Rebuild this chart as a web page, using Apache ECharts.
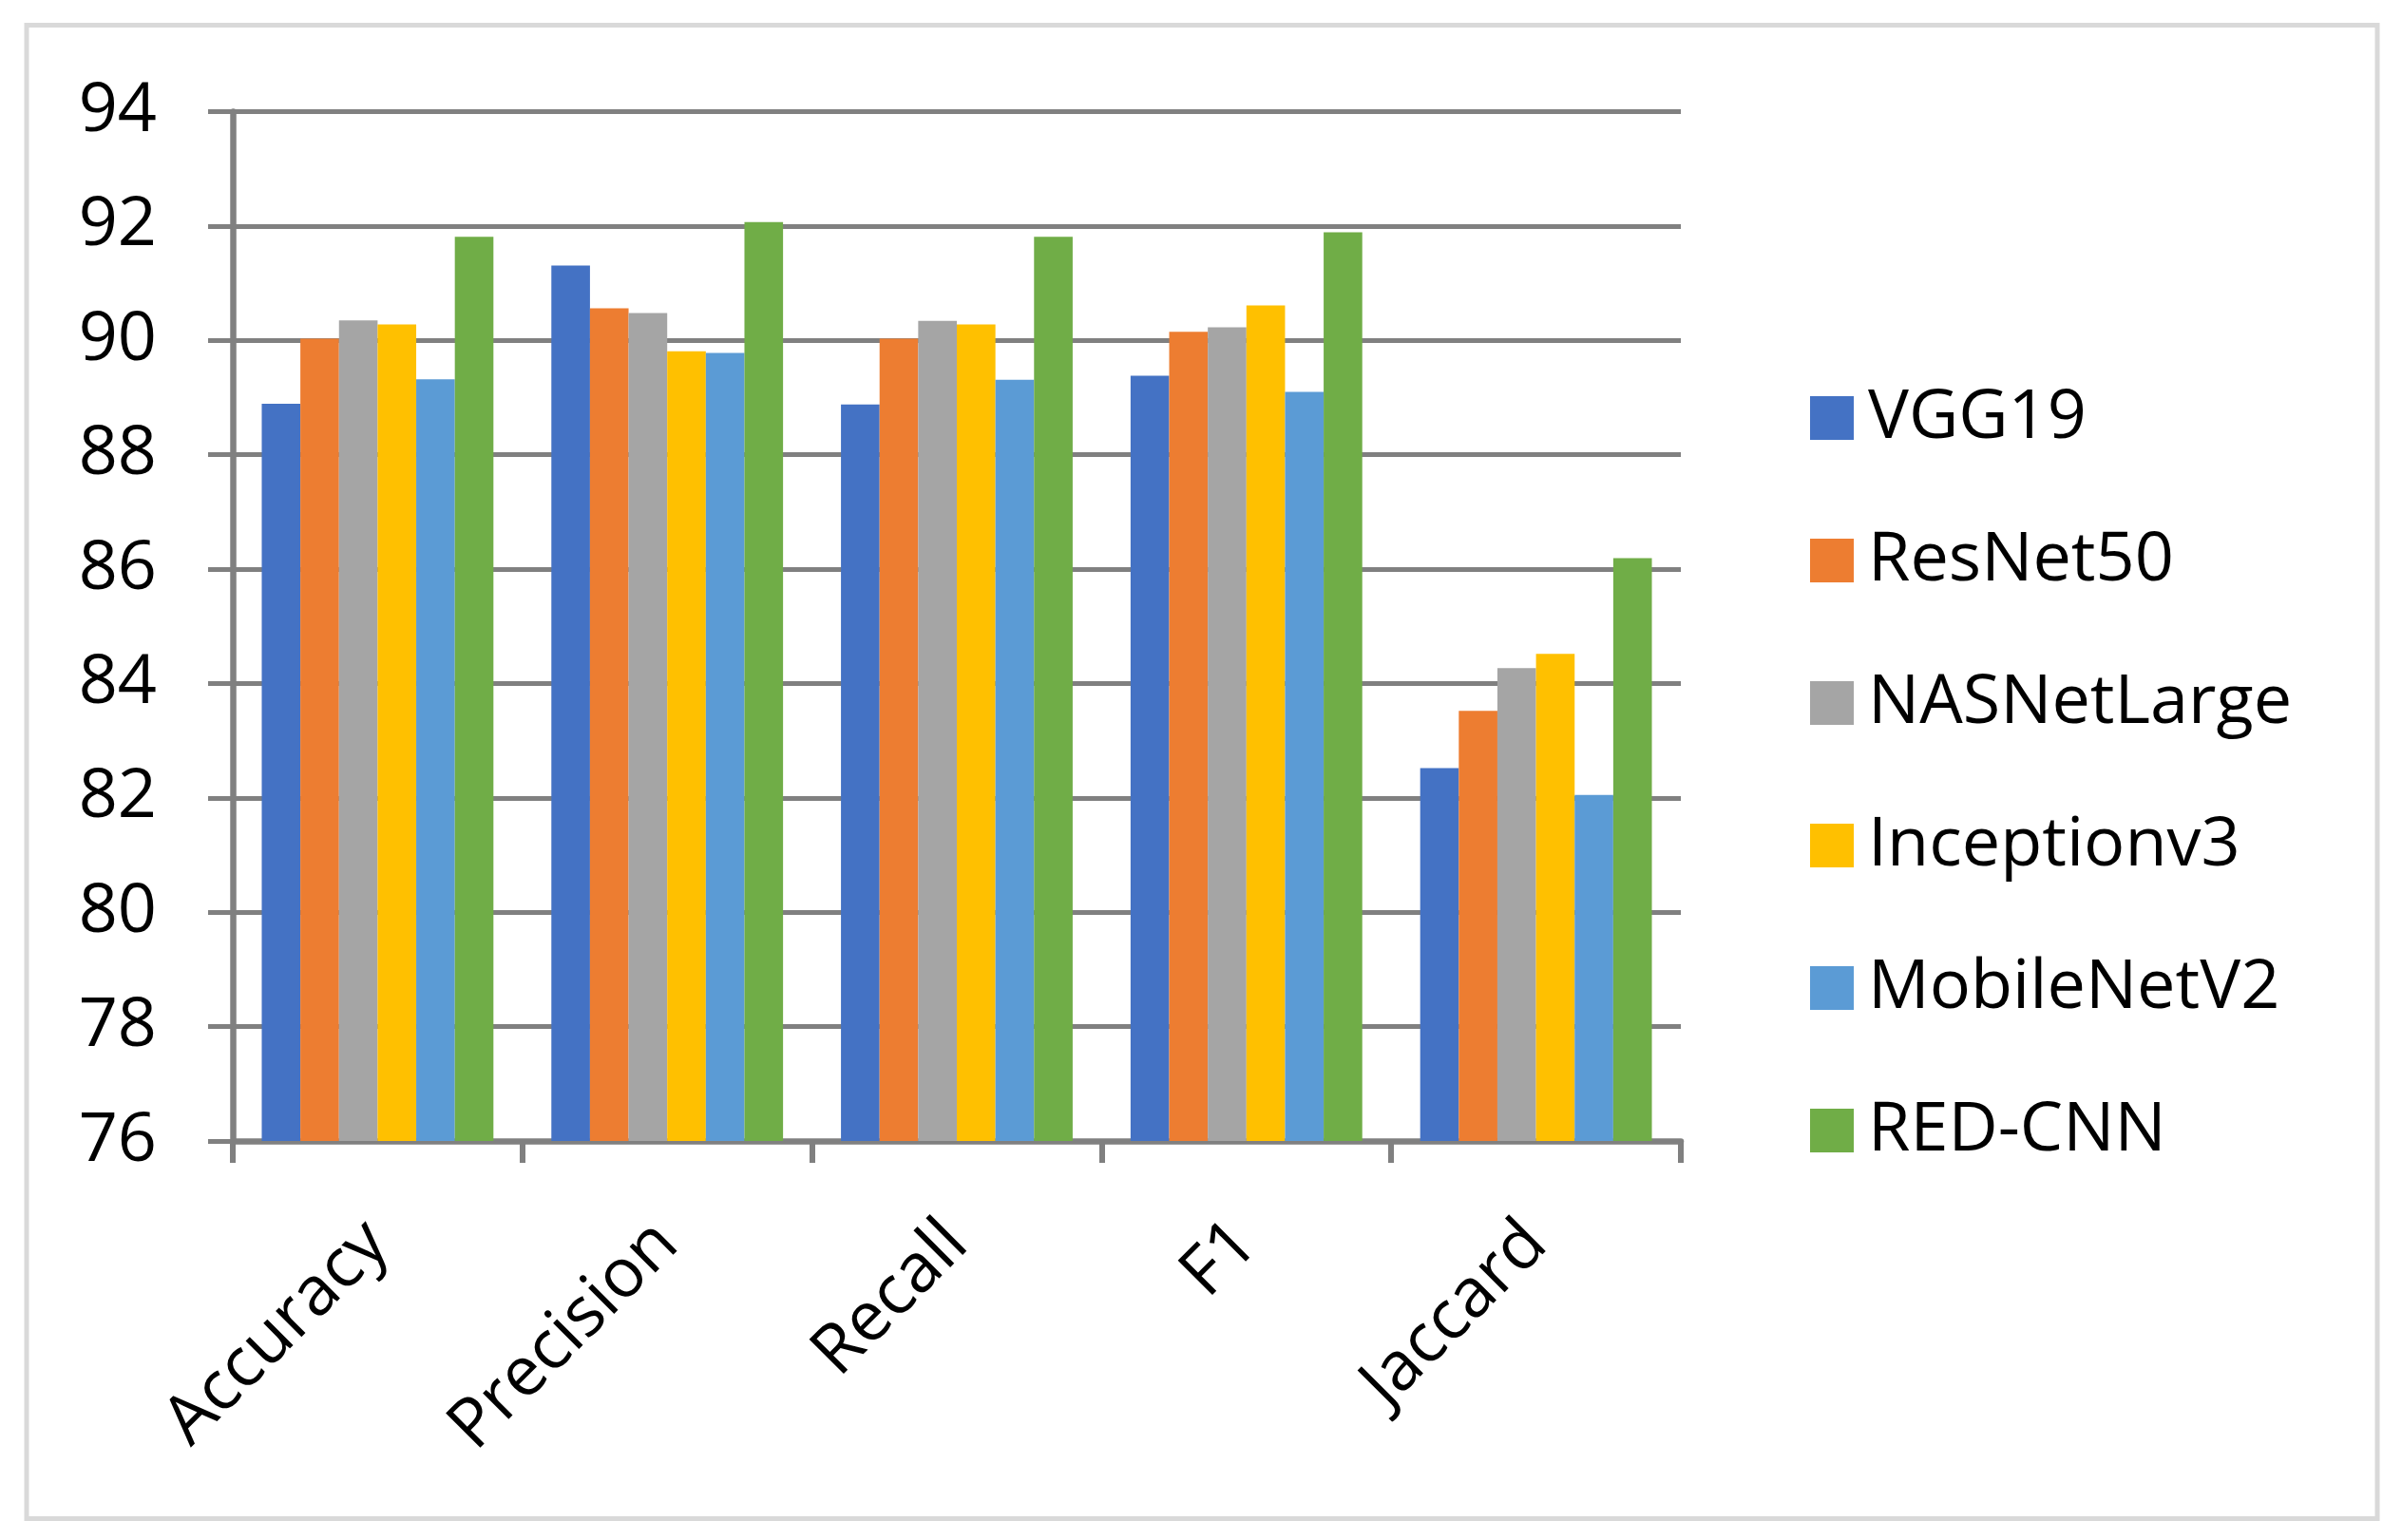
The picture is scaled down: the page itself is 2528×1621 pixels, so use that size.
<!DOCTYPE html>
<html>
<head>
<meta charset="utf-8">
<script src="https://cdn.jsdelivr.net/npm/echarts@6/dist/echarts.min.js"></script>
<style>
html,body{margin:0;padding:0;background:#fff;}
#chart{width:2528px;height:1621px;}
</style>
</head>
<body>
<div id="chart"></div>
<script>
const categories = ['Accuracy', 'Precision', 'Recall', 'F1', 'Jaccard'];
const seriesNames = ['VGG19', 'ResNet50', 'NASNetLarge', 'Inceptionv3', 'MobileNetV2', 'RED-CNN'];
const vgg19 = [88.89, 91.31, 88.88, 89.38, 82.52];
const resnet50 = [90.03, 90.56, 90.03, 90.15, 83.52];
const nasnetLarge = [90.35, 90.48, 90.34, 90.23, 84.27];
const inceptionv3 = [90.28, 89.81, 90.28, 90.61, 84.52];
const mobilenetV2 = [89.32, 89.78, 89.31, 89.10, 82.05];
const redCnn = [91.81, 92.07, 91.81, 91.89, 86.19];
const yTicks = [76, 78, 80, 82, 84, 86, 88, 90, 92, 94];

const values = [vgg19, resnet50, nasnetLarge, inceptionv3, mobilenetV2, redCnn];
const colors = ['#4472C4', '#ED7D31', '#A5A5A5', '#FFC000', '#5B9BD5', '#70AD47'];
const FONT = '"Open Sans", "DejaVu Sans", sans-serif';

const chart = echarts.init(document.getElementById('chart'));
chart.setOption({
  backgroundColor: '#ffffff',
  animation: false,
  textStyle: { fontFamily: FONT, color: '#000' },
  graphic: [{
    type: 'rect',
    shape: { x: 28, y: 26.5, width: 2474, height: 1572 },
    style: { fill: 'none', stroke: '#d9d9d9', lineWidth: 5 },
    silent: true
  }],
  grid: { left: 245, right: 759, top: 117.5, bottom: 420, containLabel: false },
  legend: {
    orient: 'vertical',
    left: 1900,
    top: 399,
    itemWidth: 46,
    itemHeight: 46,
    itemGap: 78,
    icon: 'rect',
    data: seriesNames,
    textStyle: { fontFamily: FONT, fontSize: 72, color: '#000', lineHeight: 46, padding: [0, 0, 0, 10] }
  },
  xAxis: {
    type: 'category',
    data: categories,
    axisLine: { show: true, lineStyle: { color: '#808080', width: 6.5 } },
    axisTick: { show: true, alignWithLabel: false, interval: 0, length: 23, lineStyle: { color: '#808080', width: 6 } },
    axisLabel: {
      interval: 0, rotate: 45, margin: 97, fontSize: 72, color: '#000', fontFamily: FONT
    },
    splitLine: { show: false }
  },
  yAxis: {
    type: 'value',
    min: yTicks[0],
    max: yTicks[yTicks.length - 1],
    interval: 2,
    axisLine: { show: true, lineStyle: { color: '#808080', width: 6.5 } },
    axisTick: { show: true, inside: false, length: 26, lineStyle: { color: '#808080', width: 5 } },
    axisLabel: { margin: 80, fontSize: 72, color: '#000', fontFamily: FONT },
    splitLine: { show: true, lineStyle: { color: '#808080', width: 5 } }
  },
  series: seriesNames.map((name, i) => ({
    name: name,
    type: 'bar',
    data: values[i],
    barGap: '0%',
    barCategoryGap: '20%',
    itemStyle: { color: colors[i] }
  }))
});
</script>
</body>
</html>
